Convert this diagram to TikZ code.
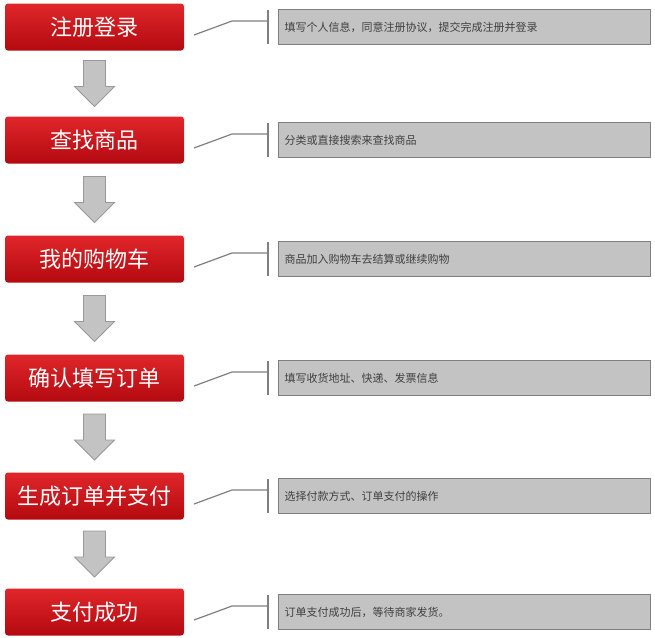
\documentclass[tikz,border=0pt]{standalone}
\usepackage{fontspec}
\setmainfont{Noto Sans CJK SC}
\definecolor{rtop}{HTML}{E0262A}
\definecolor{rbot}{HTML}{B30A10}
\definecolor{gfill}{HTML}{C3C3C3}
\definecolor{gline}{HTML}{7F7F7F}
\tikzset{
  stepbox/.style={draw=none,rounded corners=3pt,top color=rtop,bottom color=rbot,text=white,minimum width=179pt,minimum height=47pt,font=\fontsize{22pt}{24pt}\selectfont,inner sep=0},
  notebox/.style={draw=gline,line width=1.2pt,fill=gfill,minimum width=372pt,minimum height=35pt,anchor=west,text=black!75,font=\fontsize{11pt}{13pt}\selectfont,inner sep=6pt,text width=360pt,align=left},
  downarr/.style={draw=gline!80,fill=gfill,line width=0.8pt},
  conn/.style={draw=gline,line width=1.2pt},
}
\begin{document}
\begin{tikzpicture}[x=1pt,y=-1pt]
\useasboundingbox (0,0) rectangle (655,637);
\foreach \i/\y/\t/\n in {1/27/注册登录/填写个人信息，同意注册协议，提交完成注册并登录,
  2/140/查找商品/分类或直接搜索来查找商品,
  3/259/我的购物车/商品加入购物车去结算或继续购物,
  4/378/确认填写订单/填写收货地址、快递、发票信息,
  5/496/生成订单并支付/选择付款方式、订单支付的操作,
  6/612/支付成功/订单支付成功后，等待商家发货。}{
  \node[stepbox] (s\i) at (94.5,\y) {\t};
  \node[notebox] (n\i) at (278,\y) {\n};
  \coordinate (a\i) at (194,\y+8);
  \coordinate (k\i) at (232,\y-6);
  \coordinate (b\i) at (268,\y-6);
  \draw[conn] (a\i) -- (k\i) -- (b\i);
  \draw[conn] (268,\y-17) -- (268,\y+17);
}
\foreach \i/\j in {1/2,2/3,3/4,4/5,5/6}{
  \path (s\i.south) -- coordinate[pos=0.5] (m\i) (s\j.north);
  \draw[downarr] ([shift={(-11,-23)}]m\i) -- ([shift={(11,-23)}]m\i) -- ([shift={(11,3)}]m\i)
    -- ([shift={(20,3)}]m\i) -- ([shift={(0,23)}]m\i) -- ([shift={(-20,3)}]m\i)
    -- ([shift={(-11,3)}]m\i) -- cycle;
}
\end{tikzpicture}
\end{document}
